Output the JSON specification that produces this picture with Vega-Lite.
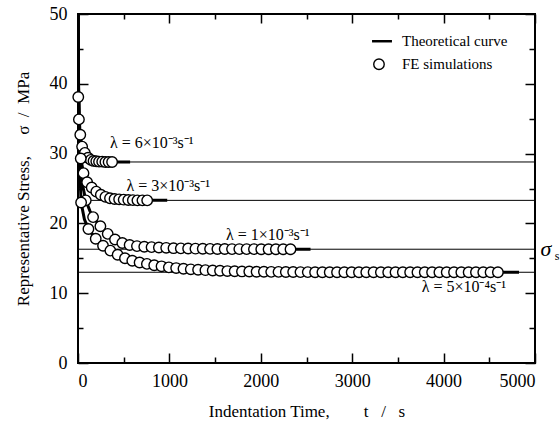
{
  "$schema": "https://vega.github.io/schema/vega-lite/v6.json",
  "width": 457,
  "height": 349,
  "autosize": {"type": "none"},
  "padding": {"left": 78, "top": 14, "right": 25, "bottom": 59},
  "background": "white",
  "config": {
    "view": {"stroke": "black", "strokeWidth": 2},
    "axis": {
      "labelFont": "Liberation Serif",
      "labelFontSize": 18,
      "labelColor": "black",
      "titleFont": "Liberation Serif",
      "titleFontSize": 17,
      "titleFontWeight": "normal",
      "titleColor": "black",
      "domain": false,
      "grid": false,
      "tickColor": "black",
      "tickWidth": 1.5,
      "format": "d"
    },
    "text": {"font": "Liberation Serif", "color": "black"}
  },
  "datasets": {
    "curves": [
      {"series": "6e-3", "t": 0, "s": 52}, {"series": "6e-3", "t": 3, "s": 44}, {"series": "6e-3", "t": 6, "s": 39}, {"series": "6e-3", "t": 12, "s": 35.5}, {"series": "6e-3", "t": 20, "s": 33.5}, {"series": "6e-3", "t": 35, "s": 31.8}, {"series": "6e-3", "t": 55, "s": 30.6}, {"series": "6e-3", "t": 80, "s": 29.8}, {"series": "6e-3", "t": 110, "s": 29.3}, {"series": "6e-3", "t": 150, "s": 29.05}, {"series": "6e-3", "t": 200, "s": 28.9}, {"series": "6e-3", "t": 260, "s": 28.82}, {"series": "6e-3", "t": 330, "s": 28.8}, {"series": "6e-3", "t": 570, "s": 28.8},
      {"series": "3e-3", "t": 0, "s": 52}, {"series": "3e-3", "t": 4, "s": 42}, {"series": "3e-3", "t": 10, "s": 35}, {"series": "3e-3", "t": 20, "s": 31}, {"series": "3e-3", "t": 35, "s": 29}, {"series": "3e-3", "t": 60, "s": 27.2}, {"series": "3e-3", "t": 100, "s": 25.9}, {"series": "3e-3", "t": 150, "s": 25.15}, {"series": "3e-3", "t": 200, "s": 24.55}, {"series": "3e-3", "t": 250, "s": 24.1}, {"series": "3e-3", "t": 300, "s": 23.8}, {"series": "3e-3", "t": 350, "s": 23.6}, {"series": "3e-3", "t": 400, "s": 23.5}, {"series": "3e-3", "t": 500, "s": 23.4}, {"series": "3e-3", "t": 600, "s": 23.33}, {"series": "3e-3", "t": 757, "s": 23.3}, {"series": "3e-3", "t": 976, "s": 23.3},
      {"series": "1e-3", "t": 0, "s": 52}, {"series": "1e-3", "t": 5, "s": 40}, {"series": "1e-3", "t": 15, "s": 32}, {"series": "1e-3", "t": 30, "s": 28}, {"series": "1e-3", "t": 50, "s": 25.5}, {"series": "1e-3", "t": 85, "s": 23.3}, {"series": "1e-3", "t": 130, "s": 21.8}, {"series": "1e-3", "t": 165, "s": 20.9}, {"series": "1e-3", "t": 245, "s": 19.6}, {"series": "1e-3", "t": 325, "s": 18.5}, {"series": "1e-3", "t": 405, "s": 17.7}, {"series": "1e-3", "t": 485, "s": 17.2}, {"series": "1e-3", "t": 565, "s": 16.9}, {"series": "1e-3", "t": 645, "s": 16.75}, {"series": "1e-3", "t": 805, "s": 16.6}, {"series": "1e-3", "t": 1045, "s": 16.45}, {"series": "1e-3", "t": 1500, "s": 16.35}, {"series": "1e-3", "t": 2325, "s": 16.3}, {"series": "1e-3", "t": 2544, "s": 16.3},
      {"series": "5e-4", "t": 0, "s": 52}, {"series": "5e-4", "t": 8, "s": 36}, {"series": "5e-4", "t": 20, "s": 27.5}, {"series": "5e-4", "t": 34, "s": 23}, {"series": "5e-4", "t": 70, "s": 20.6}, {"series": "5e-4", "t": 114, "s": 19.2}, {"series": "5e-4", "t": 194, "s": 17.8}, {"series": "5e-4", "t": 274, "s": 16.8}, {"series": "5e-4", "t": 354, "s": 16.1}, {"series": "5e-4", "t": 434, "s": 15.5}, {"series": "5e-4", "t": 514, "s": 15.0}, {"series": "5e-4", "t": 594, "s": 14.65}, {"series": "5e-4", "t": 674, "s": 14.4}, {"series": "5e-4", "t": 754, "s": 14.2}, {"series": "5e-4", "t": 834, "s": 14.0}, {"series": "5e-4", "t": 994, "s": 13.7}, {"series": "5e-4", "t": 1154, "s": 13.5}, {"series": "5e-4", "t": 1394, "s": 13.3}, {"series": "5e-4", "t": 1634, "s": 13.17}, {"series": "5e-4", "t": 1954, "s": 13.08}, {"series": "5e-4", "t": 2500, "s": 13.02}, {"series": "5e-4", "t": 4594, "s": 13.0}, {"series": "5e-4", "t": 4825, "s": 13.0}
    ],
    "pts": [
      {"series": "6e-3", "t": 3, "s": 38.1}, {"series": "6e-3", "t": 10, "s": 34.9}, {"series": "6e-3", "t": 25, "s": 32.7}, {"series": "6e-3", "t": 45, "s": 31.0}, {"series": "6e-3", "t": 75, "s": 30.1}, {"series": "6e-3", "t": 110, "s": 29.4}, {"series": "6e-3", "t": 140, "s": 29.1}, {"series": "6e-3", "t": 170, "s": 28.95}, {"series": "6e-3", "t": 200, "s": 28.9}, {"series": "6e-3", "t": 230, "s": 28.85}, {"series": "6e-3", "t": 265, "s": 28.85}, {"series": "6e-3", "t": 300, "s": 28.8}, {"series": "6e-3", "t": 335, "s": 28.8}, {"series": "6e-3", "t": 373, "s": 28.8},
      {"series": "3e-3", "t": 30, "s": 29.3}, {"series": "3e-3", "t": 60, "s": 27.2}, {"series": "3e-3", "t": 100, "s": 25.9}, {"series": "3e-3", "t": 150, "s": 25.15}, {"series": "3e-3", "t": 200, "s": 24.55}, {"series": "3e-3", "t": 250, "s": 24.1}, {"series": "3e-3", "t": 300, "s": 23.8}, {"series": "3e-3", "t": 350, "s": 23.6}, {"series": "3e-3", "t": 400, "s": 23.5}, {"series": "3e-3", "t": 450, "s": 23.45}, {"series": "3e-3", "t": 500, "s": 23.4}, {"series": "3e-3", "t": 550, "s": 23.36}, {"series": "3e-3", "t": 600, "s": 23.33}, {"series": "3e-3", "t": 650, "s": 23.3}, {"series": "3e-3", "t": 705, "s": 23.3}, {"series": "3e-3", "t": 757, "s": 23.3},
      {"series": "1e-3", "t": 85, "s": 23.3}, {"series": "1e-3", "t": 165, "s": 20.9}, {"series": "1e-3", "t": 245, "s": 19.6}, {"series": "1e-3", "t": 325, "s": 18.5}, {"series": "1e-3", "t": 405, "s": 17.7}, {"series": "1e-3", "t": 485, "s": 17.2}, {"series": "1e-3", "t": 565, "s": 16.9}, {"series": "1e-3", "t": 645, "s": 16.75}, {"series": "1e-3", "t": 725, "s": 16.66}, {"series": "1e-3", "t": 805, "s": 16.6}, {"series": "1e-3", "t": 885, "s": 16.55}, {"series": "1e-3", "t": 965, "s": 16.5}, {"series": "1e-3", "t": 1045, "s": 16.45}, {"series": "1e-3", "t": 1125, "s": 16.42}, {"series": "1e-3", "t": 1205, "s": 16.4}, {"series": "1e-3", "t": 1285, "s": 16.38}, {"series": "1e-3", "t": 1365, "s": 16.36}, {"series": "1e-3", "t": 1445, "s": 16.35}, {"series": "1e-3", "t": 1525, "s": 16.34}, {"series": "1e-3", "t": 1605, "s": 16.33}, {"series": "1e-3", "t": 1685, "s": 16.32}, {"series": "1e-3", "t": 1765, "s": 16.32}, {"series": "1e-3", "t": 1845, "s": 16.31}, {"series": "1e-3", "t": 1925, "s": 16.31}, {"series": "1e-3", "t": 2005, "s": 16.3}, {"series": "1e-3", "t": 2085, "s": 16.3}, {"series": "1e-3", "t": 2165, "s": 16.3}, {"series": "1e-3", "t": 2245, "s": 16.3}, {"series": "1e-3", "t": 2325, "s": 16.3},
      {"series": "5e-4", "t": 34, "s": 23.0}, {"series": "5e-4", "t": 114, "s": 19.2}, {"series": "5e-4", "t": 194, "s": 17.8}, {"series": "5e-4", "t": 274, "s": 16.8}, {"series": "5e-4", "t": 354, "s": 16.1}, {"series": "5e-4", "t": 434, "s": 15.5}, {"series": "5e-4", "t": 514, "s": 15.0}, {"series": "5e-4", "t": 594, "s": 14.65}, {"series": "5e-4", "t": 674, "s": 14.4}, {"series": "5e-4", "t": 754, "s": 14.2}, {"series": "5e-4", "t": 834, "s": 14.0}, {"series": "5e-4", "t": 914, "s": 13.85}, {"series": "5e-4", "t": 994, "s": 13.7}, {"series": "5e-4", "t": 1074, "s": 13.6}, {"series": "5e-4", "t": 1154, "s": 13.5}, {"series": "5e-4", "t": 1234, "s": 13.42}, {"series": "5e-4", "t": 1314, "s": 13.36}, {"series": "5e-4", "t": 1394, "s": 13.3}, {"series": "5e-4", "t": 1474, "s": 13.25}, {"series": "5e-4", "t": 1554, "s": 13.21}, {"series": "5e-4", "t": 1634, "s": 13.17}, {"series": "5e-4", "t": 1714, "s": 13.14}, {"series": "5e-4", "t": 1794, "s": 13.12}, {"series": "5e-4", "t": 1874, "s": 13.1}, {"series": "5e-4", "t": 1954, "s": 13.08}, {"series": "5e-4", "t": 2034, "s": 13.07}, {"series": "5e-4", "t": 2114, "s": 13.06}, {"series": "5e-4", "t": 2194, "s": 13.05}, {"series": "5e-4", "t": 2274, "s": 13.04}, {"series": "5e-4", "t": 2354, "s": 13.03}, {"series": "5e-4", "t": 2434, "s": 13.02}, {"series": "5e-4", "t": 2514, "s": 13.02}, {"series": "5e-4", "t": 2594, "s": 13.0}, {"series": "5e-4", "t": 2674, "s": 13.0}, {"series": "5e-4", "t": 2754, "s": 13.0}, {"series": "5e-4", "t": 2834, "s": 13.0}, {"series": "5e-4", "t": 2914, "s": 13.0}, {"series": "5e-4", "t": 2994, "s": 13.0}, {"series": "5e-4", "t": 3074, "s": 13.0}, {"series": "5e-4", "t": 3154, "s": 13.0}, {"series": "5e-4", "t": 3234, "s": 13.0}, {"series": "5e-4", "t": 3314, "s": 13.0}, {"series": "5e-4", "t": 3394, "s": 13.0}, {"series": "5e-4", "t": 3474, "s": 13.0}, {"series": "5e-4", "t": 3554, "s": 13.0}, {"series": "5e-4", "t": 3634, "s": 13.0}, {"series": "5e-4", "t": 3714, "s": 13.0}, {"series": "5e-4", "t": 3794, "s": 13.0}, {"series": "5e-4", "t": 3874, "s": 13.0}, {"series": "5e-4", "t": 3954, "s": 13.0}, {"series": "5e-4", "t": 4034, "s": 13.0}, {"series": "5e-4", "t": 4114, "s": 13.0}, {"series": "5e-4", "t": 4194, "s": 13.0}, {"series": "5e-4", "t": 4274, "s": 13.0}, {"series": "5e-4", "t": 4354, "s": 13.0}, {"series": "5e-4", "t": 4434, "s": 13.0}, {"series": "5e-4", "t": 4514, "s": 13.0}, {"series": "5e-4", "t": 4594, "s": 13.0}
    ],
    "hlines": [{"s": 28.8}, {"s": 23.3}, {"s": 16.3}, {"s": 13.0}],
    "labels": [
      {"t": 350, "s": 31.5, "label": "λ = 6×10⁻³s⁻¹"},
      {"t": 530, "s": 25.4, "label": "λ = 3×10⁻³s⁻¹"},
      {"t": 1619, "s": 18.3, "label": "λ = 1×10⁻³s⁻¹"},
      {"t": 3760, "s": 10.9, "label": "λ = 5×10⁻⁴s⁻¹"}
    ],
    "sigmaS": [{"t": 5060, "s": 16.3, "label": "σ"}],
    "sigmaSub": [{"t": 5215, "s": 15.4, "label": "s"}],
    "legLine": [{"t": 3217, "t2": 3435, "s": 46.1}],
    "legPt": [{"t": 3293, "s": 42.8}],
    "legText": [
      {"t": 3545, "s": 46.1, "label": "Theoretical curve"},
      {"t": 3545, "s": 42.8, "label": "FE simulations"}
    ]
  },
  "resolve": {"axis": {"x": "independent", "y": "independent"}},
  "layer": [
    {
      "data": {"name": "hlines"},
      "mark": {"type": "rule", "color": "black", "strokeWidth": 1},
      "encoding": {
        "y": {"field": "s", "type": "quantitative", "scale": {"domain": [0, 50], "nice": false},
          "axis": {"orient": "left", "values": [0, 10, 20, 30, 40, 50], "tickSize": -10, "labelPadding": 21,
            "title": "Representative Stress,\u00a0\u00a0\u00a0\u00a0\u00a0σ\u00a0\u00a0/\u00a0\u00a0MPa", "titlePadding": 17}}
      }
    },
    {
      "data": {"name": "curves"},
      "mark": {"type": "line", "color": "black", "strokeWidth": 3, "clip": true},
      "encoding": {
        "x": {"field": "t", "type": "quantitative", "scale": {"domain": [0, 5000], "nice": false},
          "axis": {"orient": "bottom", "values": [0, 1000, 2000, 3000, 4000, 5000], "tickSize": -10, "labelPadding": 19,
            "title": "Indentation Time,\u00a0\u00a0\u00a0\u00a0\u00a0\u00a0\u00a0\u00a0t\u00a0\u00a0\u00a0/\u00a0\u00a0\u00a0s", "titlePadding": 13}},
        "y": {"field": "s", "type": "quantitative", "scale": {"domain": [0, 50], "nice": false},
          "axis": {"orient": "left", "values": [5, 15, 25, 35, 45], "tickSize": -5, "labels": false, "title": null}},
        "detail": {"field": "series"},
        "order": {"field": "t", "type": "quantitative"}
      }
    },
    {
      "data": {"name": "pts"},
      "mark": {"type": "point", "shape": "circle", "filled": false, "fill": "white", "fillOpacity": 1, "stroke": "black", "strokeWidth": 1.4, "size": 110, "opacity": 1},
      "encoding": {
        "x": {"field": "t", "type": "quantitative", "scale": {"domain": [0, 5000], "nice": false},
          "axis": {"orient": "bottom", "values": [500, 1500, 2500, 3500, 4500], "tickSize": -6, "labels": false, "title": null}},
        "y": {"field": "s", "type": "quantitative", "scale": {"domain": [0, 50], "nice": false},
          "axis": {"orient": "right", "values": [0, 10, 20, 30, 40, 50], "tickSize": -10, "labels": false, "title": null}}
      }
    },
    {
      "data": {"name": "labels"},
      "mark": {"type": "text", "align": "left", "baseline": "middle", "fontSize": 16},
      "encoding": {
        "x": {"field": "t", "type": "quantitative", "scale": {"domain": [0, 5000], "nice": false},
          "axis": {"orient": "top", "values": [0, 1000, 2000, 3000, 4000, 5000], "tickSize": -9, "labels": false, "title": null}},
        "y": {"field": "s", "type": "quantitative", "scale": {"domain": [0, 50], "nice": false},
          "axis": {"orient": "right", "values": [5, 15, 25, 35, 45], "tickSize": -6, "labels": false, "title": null}},
        "text": {"field": "label"}
      }
    },
    {
      "data": {"name": "sigmaS"},
      "mark": {"type": "text", "align": "left", "baseline": "middle", "fontSize": 22, "fontStyle": "italic"},
      "encoding": {
        "x": {"field": "t", "type": "quantitative", "scale": {"domain": [0, 5000], "nice": false},
          "axis": {"orient": "top", "values": [500, 1500, 2500, 3500, 4500], "tickSize": -5, "labels": false, "title": null}},
        "y": {"field": "s", "type": "quantitative", "scale": {"domain": [0, 50], "nice": false}, "axis": null},
        "text": {"field": "label"}
      }
    },
    {
      "data": {"name": "sigmaSub"},
      "mark": {"type": "text", "align": "left", "baseline": "middle", "fontSize": 12},
      "encoding": {
        "x": {"field": "t", "type": "quantitative", "scale": {"domain": [0, 5000], "nice": false}, "axis": null},
        "y": {"field": "s", "type": "quantitative", "scale": {"domain": [0, 50], "nice": false}, "axis": null},
        "text": {"field": "label"}
      }
    },
    {
      "data": {"name": "legLine"},
      "mark": {"type": "rule", "color": "black", "strokeWidth": 2.5},
      "encoding": {
        "x": {"field": "t", "type": "quantitative", "scale": {"domain": [0, 5000], "nice": false}, "axis": null},
        "x2": {"field": "t2"},
        "y": {"field": "s", "type": "quantitative", "scale": {"domain": [0, 50], "nice": false}, "axis": null}
      }
    },
    {
      "data": {"name": "legPt"},
      "mark": {"type": "point", "shape": "circle", "filled": false, "fill": "white", "fillOpacity": 1, "stroke": "black", "strokeWidth": 1.4, "size": 110, "opacity": 1},
      "encoding": {
        "x": {"field": "t", "type": "quantitative", "scale": {"domain": [0, 5000], "nice": false}, "axis": null},
        "y": {"field": "s", "type": "quantitative", "scale": {"domain": [0, 50], "nice": false}, "axis": null}
      }
    },
    {
      "data": {"name": "legText"},
      "mark": {"type": "text", "align": "left", "baseline": "middle", "fontSize": 15},
      "encoding": {
        "x": {"field": "t", "type": "quantitative", "scale": {"domain": [0, 5000], "nice": false}, "axis": null},
        "y": {"field": "s", "type": "quantitative", "scale": {"domain": [0, 50], "nice": false}, "axis": null},
        "text": {"field": "label"}
      }
    }
  ]
}
